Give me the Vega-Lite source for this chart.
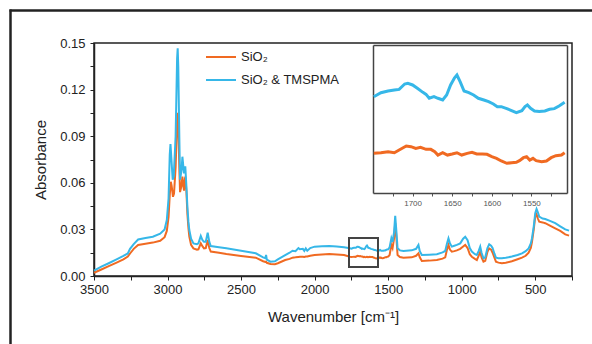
{
  "$schema": "https://vega.github.io/schema/vega-lite/v6.json",
  "width": 478,
  "height": 233,
  "autosize": "none",
  "padding": {"left": 94, "top": 43, "right": 20, "bottom": 68},
  "background": "white",
  "config": {
    "font": "Liberation Sans",
    "view": {"stroke": "#222", "strokeWidth": 1.5},
    "axis": {"grid": false, "labelColor": "#222", "titleColor": "#222", "tickColor": "#222", "domainColor": "#222", "domainWidth": 1.5, "titleFontWeight": "normal", "labelFlush": false, "labelOverlap": false}
  },
  "datasets": {
    "spec": [
      {"w":3500,"a":0.0021,"s":"o"},{"w":3450,"a":0.0042,"s":"o"},{"w":3400,"a":0.0064,"s":"o"},{"w":3350,"a":0.0085,"s":"o"},{"w":3300,"a":0.0107,"s":"o"},{"w":3270,"a":0.0125,"s":"o"},{"w":3255,"a":0.0145,"s":"o"},{"w":3230,"a":0.0175,"s":"o"},{"w":3200,"a":0.0200,"s":"o"},{"w":3150,"a":0.0208,"s":"o"},{"w":3100,"a":0.0215,"s":"o"},{"w":3050,"a":0.0227,"s":"o"},{"w":3020,"a":0.0250,"s":"o"},{"w":3005,"a":0.0290,"s":"o"},{"w":2993,"a":0.0380,"s":"o"},{"w":2985,"a":0.0520,"s":"o"},{"w":2978,"a":0.0607,"s":"o"},{"w":2972,"a":0.0580,"s":"o"},{"w":2963,"a":0.0510,"s":"o"},{"w":2956,"a":0.0530,"s":"o"},{"w":2945,"a":0.0700,"s":"o"},{"w":2935,"a":0.1000,"s":"o"},{"w":2931,"a":0.1050,"s":"o"},{"w":2927,"a":0.0980,"s":"o"},{"w":2920,"a":0.0700,"s":"o"},{"w":2915,"a":0.0540,"s":"o"},{"w":2905,"a":0.0580,"s":"o"},{"w":2899,"a":0.0640,"s":"o"},{"w":2892,"a":0.0580,"s":"o"},{"w":2888,"a":0.0550,"s":"o"},{"w":2882,"a":0.0620,"s":"o"},{"w":2879,"a":0.0640,"s":"o"},{"w":2872,"a":0.0550,"s":"o"},{"w":2865,"a":0.0400,"s":"o"},{"w":2858,"a":0.0310,"s":"o"},{"w":2852,"a":0.0253,"s":"o"},{"w":2840,"a":0.0200,"s":"o"},{"w":2824,"a":0.0178,"s":"o"},{"w":2800,"a":0.0170,"s":"o"},{"w":2790,"a":0.0172,"s":"o"},{"w":2774,"a":0.0210,"s":"o"},{"w":2762,"a":0.0190,"s":"o"},{"w":2752,"a":0.0178,"s":"o"},{"w":2740,"a":0.0180,"s":"o"},{"w":2727,"a":0.0232,"s":"o"},{"w":2716,"a":0.0180,"s":"o"},{"w":2706,"a":0.0157,"s":"o"},{"w":2650,"a":0.0150,"s":"o"},{"w":2600,"a":0.0142,"s":"o"},{"w":2500,"a":0.0129,"s":"o"},{"w":2400,"a":0.0118,"s":"o"},{"w":2350,"a":0.0095,"s":"o"},{"w":2335,"a":0.0090,"s":"o"},{"w":2330,"a":0.0092,"s":"o"},{"w":2325,"a":0.0085,"s":"o"},{"w":2300,"a":0.0077,"s":"o"},{"w":2270,"a":0.0076,"s":"o"},{"w":2250,"a":0.0082,"s":"o"},{"w":2200,"a":0.0103,"s":"o"},{"w":2170,"a":0.0110,"s":"o"},{"w":2150,"a":0.0118,"s":"o"},{"w":2130,"a":0.0120,"s":"o"},{"w":2110,"a":0.0123,"s":"o"},{"w":2100,"a":0.0124,"s":"o"},{"w":2080,"a":0.0124,"s":"o"},{"w":2070,"a":0.0122,"s":"o"},{"w":2060,"a":0.0125,"s":"o"},{"w":2050,"a":0.0125,"s":"o"},{"w":2030,"a":0.0130,"s":"o"},{"w":2000,"a":0.0135,"s":"o"},{"w":1950,"a":0.0139,"s":"o"},{"w":1900,"a":0.0142,"s":"o"},{"w":1850,"a":0.0139,"s":"o"},{"w":1800,"a":0.0135,"s":"o"},{"w":1760,"a":0.0124,"s":"o"},
      {"w":1749,"a":0.01225,"s":"o"},{"w":1740,"a":0.01231,"s":"o"},{"w":1731,"a":0.01241,"s":"o"},{"w":1723,"a":0.01231,"s":"o"},{"w":1717,"a":0.01257,"s":"o"},{"w":1708,"a":0.01295,"s":"o"},{"w":1702,"a":0.01288,"s":"o"},{"w":1696,"a":0.01272,"s":"o"},{"w":1690,"a":0.01282,"s":"o"},{"w":1683,"a":0.01263,"s":"o"},{"w":1677,"a":0.01263,"s":"o"},{"w":1672,"a":0.01241,"s":"o"},{"w":1668,"a":0.01209,"s":"o"},{"w":1662,"a":0.01231,"s":"o"},{"w":1656,"a":0.01209,"s":"o"},{"w":1650,"a":0.01219,"s":"o"},{"w":1644,"a":0.01231,"s":"o"},{"w":1638,"a":0.01209,"s":"o"},{"w":1631,"a":0.01225,"s":"o"},{"w":1625,"a":0.01235,"s":"o"},{"w":1619,"a":0.01219,"s":"o"},{"w":1612,"a":0.01219,"s":"o"},{"w":1606,"a":0.01216,"s":"o"},{"w":1600,"a":0.01194,"s":"o"},{"w":1594,"a":0.01178,"s":"o"},{"w":1588,"a":0.01153,"s":"o"},{"w":1581,"a":0.01131,"s":"o"},{"w":1575,"a":0.01137,"s":"o"},{"w":1569,"a":0.0114,"s":"o"},{"w":1565,"a":0.01156,"s":"o"},{"w":1560,"a":0.01184,"s":"o"},{"w":1556,"a":0.01194,"s":"o"},{"w":1552,"a":0.01162,"s":"o"},{"w":1548,"a":0.01178,"s":"o"},{"w":1544,"a":0.01156,"s":"o"},{"w":1537,"a":0.01146,"s":"o"},{"w":1531,"a":0.01153,"s":"o"},{"w":1525,"a":0.01184,"s":"o"},{"w":1519,"a":0.01203,"s":"o"},{"w":1512,"a":0.01209,"s":"o"},{"w":1508,"a":0.01231,"s":"o"},
      {"w":1500,"a":0.0125,"s":"o"},{"w":1490,"a":0.0135,"s":"o"},{"w":1478,"a":0.0200,"s":"o"},{"w":1470,"a":0.0180,"s":"o"},{"w":1460,"a":0.0240,"s":"o"},{"w":1452,"a":0.0340,"s":"o"},{"w":1445,"a":0.0260,"s":"o"},{"w":1436,"a":0.0135,"s":"o"},{"w":1420,"a":0.0122,"s":"o"},{"w":1396,"a":0.0118,"s":"o"},{"w":1340,"a":0.0120,"s":"o"},{"w":1310,"a":0.0130,"s":"o"},{"w":1294,"a":0.0146,"s":"o"},{"w":1285,"a":0.0120,"s":"o"},{"w":1271,"a":0.0097,"s":"o"},{"w":1220,"a":0.0099,"s":"o"},{"w":1169,"a":0.0103,"s":"o"},{"w":1130,"a":0.0112,"s":"o"},{"w":1112,"a":0.0120,"s":"o"},{"w":1100,"a":0.0170,"s":"o"},{"w":1090,"a":0.0200,"s":"o"},{"w":1080,"a":0.0170,"s":"o"},{"w":1067,"a":0.0157,"s":"o"},{"w":1050,"a":0.0160,"s":"o"},{"w":1033,"a":0.0165,"s":"o"},{"w":1010,"a":0.0175,"s":"o"},{"w":990,"a":0.0190,"s":"o"},{"w":976,"a":0.0200,"s":"o"},{"w":960,"a":0.0180,"s":"o"},{"w":945,"a":0.0140,"s":"o"},{"w":931,"a":0.0124,"s":"o"},{"w":910,"a":0.0110,"s":"o"},{"w":897,"a":0.0103,"s":"o"},{"w":885,"a":0.0130,"s":"o"},{"w":874,"a":0.0157,"s":"o"},{"w":865,"a":0.0120,"s":"o"},{"w":852,"a":0.0092,"s":"o"},{"w":840,"a":0.0098,"s":"o"},{"w":825,"a":0.0155,"s":"o"},{"w":813,"a":0.0178,"s":"o"},{"w":800,"a":0.0170,"s":"o"},{"w":790,"a":0.0150,"s":"o"},{"w":778,"a":0.0120,"s":"o"},{"w":767,"a":0.0092,"s":"o"},{"w":750,"a":0.0086,"s":"o"},{"w":727,"a":0.0082,"s":"o"},{"w":700,"a":0.0085,"s":"o"},{"w":659,"a":0.0095,"s":"o"},{"w":620,"a":0.0108,"s":"o"},{"w":590,"a":0.0118,"s":"o"},{"w":565,"a":0.0130,"s":"o"},{"w":545,"a":0.0150,"s":"o"},{"w":530,"a":0.0180,"s":"o"},{"w":522,"a":0.0220,"s":"o"},{"w":510,"a":0.0300,"s":"o"},{"w":500,"a":0.0382,"s":"o"},{"w":491,"a":0.0397,"s":"o"},{"w":482,"a":0.0370,"s":"o"},{"w":473,"a":0.0350,"s":"o"},{"w":450,"a":0.0345,"s":"o"},{"w":432,"a":0.0340,"s":"o"},{"w":400,"a":0.0325,"s":"o"},{"w":364,"a":0.0307,"s":"o"},{"w":330,"a":0.0290,"s":"o"},{"w":296,"a":0.0268,"s":"o"},{"w":270,"a":0.0260,"s":"o"},
      {"w":3500,"a":0.0035,"s":"b"},{"w":3450,"a":0.0060,"s":"b"},{"w":3400,"a":0.0082,"s":"b"},{"w":3350,"a":0.0105,"s":"b"},{"w":3300,"a":0.0129,"s":"b"},{"w":3270,"a":0.0145,"s":"b"},{"w":3255,"a":0.0175,"s":"b"},{"w":3230,"a":0.0205,"s":"b"},{"w":3200,"a":0.0235,"s":"b"},{"w":3150,"a":0.0245,"s":"b"},{"w":3100,"a":0.0253,"s":"b"},{"w":3050,"a":0.0272,"s":"b"},{"w":3020,"a":0.0300,"s":"b"},{"w":3005,"a":0.0360,"s":"b"},{"w":2993,"a":0.0500,"s":"b"},{"w":2985,"a":0.0780,"s":"b"},{"w":2980,"a":0.0850,"s":"b"},{"w":2974,"a":0.0760,"s":"b"},{"w":2965,"a":0.0620,"s":"b"},{"w":2958,"a":0.0640,"s":"b"},{"w":2945,"a":0.0900,"s":"b"},{"w":2935,"a":0.1400,"s":"b"},{"w":2931,"a":0.1466,"s":"b"},{"w":2927,"a":0.1350,"s":"b"},{"w":2920,"a":0.0900,"s":"b"},{"w":2915,"a":0.0620,"s":"b"},{"w":2905,"a":0.0680,"s":"b"},{"w":2899,"a":0.0768,"s":"b"},{"w":2892,"a":0.0700,"s":"b"},{"w":2888,"a":0.0660,"s":"b"},{"w":2882,"a":0.0700,"s":"b"},{"w":2879,"a":0.0700,"s":"b"},{"w":2872,"a":0.0580,"s":"b"},{"w":2865,"a":0.0446,"s":"b"},{"w":2858,"a":0.0350,"s":"b"},{"w":2852,"a":0.0296,"s":"b"},{"w":2840,"a":0.0240,"s":"b"},{"w":2824,"a":0.0210,"s":"b"},{"w":2800,"a":0.0205,"s":"b"},{"w":2790,"a":0.0210,"s":"b"},{"w":2774,"a":0.0258,"s":"b"},{"w":2762,"a":0.0230,"s":"b"},{"w":2752,"a":0.0220,"s":"b"},{"w":2740,"a":0.0220,"s":"b"},{"w":2727,"a":0.0279,"s":"b"},{"w":2716,"a":0.0220,"s":"b"},{"w":2706,"a":0.0193,"s":"b"},{"w":2650,"a":0.0185,"s":"b"},{"w":2600,"a":0.0178,"s":"b"},{"w":2500,"a":0.0163,"s":"b"},{"w":2400,"a":0.0146,"s":"b"},{"w":2350,"a":0.0120,"s":"b"},{"w":2335,"a":0.0115,"s":"b"},{"w":2330,"a":0.0135,"s":"b"},{"w":2325,"a":0.0105,"s":"b"},{"w":2300,"a":0.0092,"s":"b"},{"w":2270,"a":0.0095,"s":"b"},{"w":2250,"a":0.0107,"s":"b"},{"w":2200,"a":0.0135,"s":"b"},{"w":2170,"a":0.0150,"s":"b"},{"w":2150,"a":0.0163,"s":"b"},{"w":2130,"a":0.0160,"s":"b"},{"w":2110,"a":0.0180,"s":"b"},{"w":2100,"a":0.0172,"s":"b"},{"w":2080,"a":0.0175,"s":"b"},{"w":2070,"a":0.0162,"s":"b"},{"w":2060,"a":0.0178,"s":"b"},{"w":2050,"a":0.0163,"s":"b"},{"w":2030,"a":0.0180,"s":"b"},{"w":2000,"a":0.0189,"s":"b"},{"w":1950,"a":0.0191,"s":"b"},{"w":1900,"a":0.0193,"s":"b"},{"w":1850,"a":0.0190,"s":"b"},{"w":1800,"a":0.0185,"s":"b"},{"w":1760,"a":0.0178,"s":"b"},
      {"w":1749,"a":0.01761,"s":"b"},{"w":1740,"a":0.01799,"s":"b"},{"w":1731,"a":0.01815,"s":"b"},{"w":1723,"a":0.01824,"s":"b"},{"w":1717,"a":0.0183,"s":"b"},{"w":1710,"a":0.01881,"s":"b"},{"w":1706,"a":0.01887,"s":"b"},{"w":1700,"a":0.01872,"s":"b"},{"w":1694,"a":0.0184,"s":"b"},{"w":1687,"a":0.01802,"s":"b"},{"w":1683,"a":0.01783,"s":"b"},{"w":1679,"a":0.01746,"s":"b"},{"w":1673,"a":0.01761,"s":"b"},{"w":1668,"a":0.01746,"s":"b"},{"w":1662,"a":0.0173,"s":"b"},{"w":1657,"a":0.01777,"s":"b"},{"w":1652,"a":0.01872,"s":"b"},{"w":1647,"a":0.0194,"s":"b"},{"w":1644,"a":0.01966,"s":"b"},{"w":1640,"a":0.01903,"s":"b"},{"w":1635,"a":0.01815,"s":"b"},{"w":1629,"a":0.01799,"s":"b"},{"w":1623,"a":0.01777,"s":"b"},{"w":1617,"a":0.01746,"s":"b"},{"w":1610,"a":0.0173,"s":"b"},{"w":1604,"a":0.01714,"s":"b"},{"w":1598,"a":0.01692,"s":"b"},{"w":1593,"a":0.01667,"s":"b"},{"w":1588,"a":0.01667,"s":"b"},{"w":1581,"a":0.01648,"s":"b"},{"w":1575,"a":0.01629,"s":"b"},{"w":1569,"a":0.0161,"s":"b"},{"w":1562,"a":0.01629,"s":"b"},{"w":1558,"a":0.01667,"s":"b"},{"w":1555,"a":0.01683,"s":"b"},{"w":1551,"a":0.01651,"s":"b"},{"w":1546,"a":0.01626,"s":"b"},{"w":1540,"a":0.0162,"s":"b"},{"w":1533,"a":0.01626,"s":"b"},{"w":1527,"a":0.01642,"s":"b"},{"w":1521,"a":0.01648,"s":"b"},{"w":1515,"a":0.01673,"s":"b"},{"w":1508,"a":0.01708,"s":"b"},
      {"w":1500,"a":0.0172,"s":"b"},{"w":1490,"a":0.0185,"s":"b"},{"w":1478,"a":0.0243,"s":"b"},{"w":1470,"a":0.0220,"s":"b"},{"w":1460,"a":0.0280,"s":"b"},{"w":1452,"a":0.0388,"s":"b"},{"w":1445,"a":0.0300,"s":"b"},{"w":1436,"a":0.0178,"s":"b"},{"w":1420,"a":0.0165,"s":"b"},{"w":1396,"a":0.0161,"s":"b"},{"w":1340,"a":0.0165,"s":"b"},{"w":1310,"a":0.0175,"s":"b"},{"w":1294,"a":0.0200,"s":"b"},{"w":1285,"a":0.0160,"s":"b"},{"w":1271,"a":0.0135,"s":"b"},{"w":1220,"a":0.0137,"s":"b"},{"w":1169,"a":0.0140,"s":"b"},{"w":1130,"a":0.0152,"s":"b"},{"w":1112,"a":0.0161,"s":"b"},{"w":1100,"a":0.0210,"s":"b"},{"w":1090,"a":0.0243,"s":"b"},{"w":1080,"a":0.0210,"s":"b"},{"w":1067,"a":0.0189,"s":"b"},{"w":1050,"a":0.0195,"s":"b"},{"w":1033,"a":0.0200,"s":"b"},{"w":1010,"a":0.0210,"s":"b"},{"w":990,"a":0.0240,"s":"b"},{"w":976,"a":0.0253,"s":"b"},{"w":960,"a":0.0230,"s":"b"},{"w":945,"a":0.0180,"s":"b"},{"w":931,"a":0.0157,"s":"b"},{"w":910,"a":0.0140,"s":"b"},{"w":897,"a":0.0135,"s":"b"},{"w":885,"a":0.0160,"s":"b"},{"w":874,"a":0.0189,"s":"b"},{"w":865,"a":0.0150,"s":"b"},{"w":852,"a":0.0114,"s":"b"},{"w":840,"a":0.0120,"s":"b"},{"w":825,"a":0.0180,"s":"b"},{"w":813,"a":0.0204,"s":"b"},{"w":800,"a":0.0195,"s":"b"},{"w":790,"a":0.0180,"s":"b"},{"w":778,"a":0.0145,"s":"b"},{"w":767,"a":0.0118,"s":"b"},{"w":750,"a":0.0115,"s":"b"},{"w":727,"a":0.0114,"s":"b"},{"w":700,"a":0.0117,"s":"b"},{"w":659,"a":0.0125,"s":"b"},{"w":620,"a":0.0135,"s":"b"},{"w":590,"a":0.0146,"s":"b"},{"w":565,"a":0.0160,"s":"b"},{"w":545,"a":0.0178,"s":"b"},{"w":530,"a":0.0210,"s":"b"},{"w":522,"a":0.0243,"s":"b"},{"w":510,"a":0.0320,"s":"b"},{"w":500,"a":0.0404,"s":"b"},{"w":491,"a":0.0431,"s":"b"},{"w":482,"a":0.0410,"s":"b"},{"w":473,"a":0.0382,"s":"b"},{"w":450,"a":0.0370,"s":"b"},{"w":432,"a":0.0367,"s":"b"},{"w":400,"a":0.0355,"s":"b"},{"w":364,"a":0.0340,"s":"b"},{"w":330,"a":0.0320,"s":"b"},{"w":296,"a":0.0300,"s":"b"},{"w":270,"a":0.0292,"s":"b"}
    ]
  },
  "data": {"name": "spec"},
  "layer": [
    {
      "mark": {"type": "line", "strokeWidth": 2},
      "encoding": {
        "x": {"field": "w", "type": "quantitative", "sort": null,
          "scale": {"domain": [3500, 250], "nice": false, "zero": false},
          "axis": {"values": [3500,3250,3000,2750,2500,2250,2000,1750,1500,1250,1000,750,500,250], "labelExpr": "datum.value % 500 == 0 ? datum.label : ''", "format": "d", "title": "Wavenumber [cm⁻¹]", "tickSize": 4, "labelFontSize": 13, "titleFontSize": 15, "labelPadding": 3, "titlePadding": 13}},
        "y": {"field": "a", "type": "quantitative",
          "scale": {"domain": [0, 0.15], "nice": false},
          "axis": {"values": [0,0.015,0.03,0.045,0.06,0.075,0.09,0.105,0.12,0.135,0.15], "labelExpr": "round(datum.value*1000) % 30 == 0 ? format(datum.value, '.2f') : ''", "title": "Absorbance", "tickSize": 4, "labelFontSize": 13, "titleFontSize": 15, "labelPadding": 5, "titlePadding": 11}},
        "color": {"field": "s", "type": "nominal",
          "scale": {"domain": ["o", "b"], "range": ["#f06a22", "#36b7e8"]},
          "legend": {"orient": "none", "legendX": 111, "legendY": -2, "title": null, "labelFontSize": 13, "labelColor": "#222", "symbolType": "stroke", "symbolStrokeWidth": 2, "symbolSize": 900, "rowPadding": -1, "labelExpr": "datum.value == 'o' ? 'SiO₂' : 'SiO₂ & TMSPMA'"}},
        "order": {"field": "w", "sort": "descending"}
      }
    },
    {
      "mark": {"type": "rect", "fillOpacity": 0, "stroke": "#444", "strokeWidth": 1.2},
      "encoding": {
        "x": {"datum": 1765, "type": "quantitative", "scale": {"domain": [3500, 250], "nice": false, "zero": false}, "axis": null},
        "x2": {"datum": 1568},
        "y": {"datum": 0.006, "type": "quantitative", "scale": {"domain": [0, 0.15], "nice": false}, "axis": null},
        "y2": {"datum": 0.0247}
      }
    },
    {
      "transform": [{"filter": "datum.w <= 1750 && datum.w >= 1505"}],
      "mark": {"type": "line", "strokeWidth": 3},
      "encoding": {
        "x": {"field": "w", "type": "quantitative",
          "scale": {"domain": [1750, 1505], "nice": false, "zero": false, "range": [279, 473]},
          "axis": {"orient": "bottom", "offset": -83, "values": [1725,1700,1675,1650,1625,1600,1575,1550,1525], "labelExpr": "datum.value % 50 == 0 ? datum.label : ''", "format": "d", "title": null, "labelFontSize": 8, "labelColor": "#555", "tickSize": 3, "tickColor": "#555", "domainColor": "#444", "domainWidth": 1.5, "labelPadding": 3}},
        "y": {"field": "a", "type": "quantitative",
          "scale": {"domain": [0.0085, 0.0225], "nice": false, "zero": false, "range": [150, 2]},
          "axis": {"orient": "left", "offset": -279, "labels": false, "ticks": false, "title": null, "domainColor": "#444", "domainWidth": 1.5}},
        "color": {"field": "s", "type": "nominal", "legend": null},
        "order": {"field": "w", "sort": "descending"}
      }
    },
    {
      "transform": [{"filter": "datum.w <= 1750 && datum.w >= 1505"}],
      "mark": {"type": "line", "opacity": 0},
      "encoding": {
        "x": {"field": "w", "type": "quantitative",
          "scale": {"domain": [1750, 1505], "nice": false, "zero": false, "range": [279, 473]},
          "axis": {"orient": "top", "offset": -2, "labels": false, "ticks": false, "title": null, "domainColor": "#444", "domainWidth": 1.5}},
        "y": {"field": "a", "type": "quantitative",
          "scale": {"domain": [0.0085, 0.0225], "nice": false, "zero": false, "range": [150, 2]},
          "axis": {"orient": "right", "offset": -5, "labels": false, "ticks": false, "title": null, "domainColor": "#444", "domainWidth": 1.5}},
        "detail": {"field": "s"}
      }
    },
    {
      "mark": {"type": "line", "opacity": 0},
      "encoding": {
        "x": {"field": "w", "type": "quantitative",
          "scale": {"domain": [3500, 250], "nice": false, "zero": false, "range": [-85, 520]},
          "axis": {"orient": "top", "offset": 33, "labels": false, "ticks": false, "title": null, "domainColor": "#222", "domainWidth": 2.5}},
        "y": {"field": "a", "type": "quantitative",
          "scale": {"domain": [0, 0.15], "nice": false, "range": [320, -34]},
          "axis": {"orient": "left", "offset": 84, "labels": false, "ticks": false, "title": null, "domainColor": "#222", "domainWidth": 2.5}},
        "detail": {"field": "s"}
      }
    }
  ],
  "resolve": {"scale": {"x": "independent", "y": "independent"}, "axis": {"x": "independent", "y": "independent"}}
}
